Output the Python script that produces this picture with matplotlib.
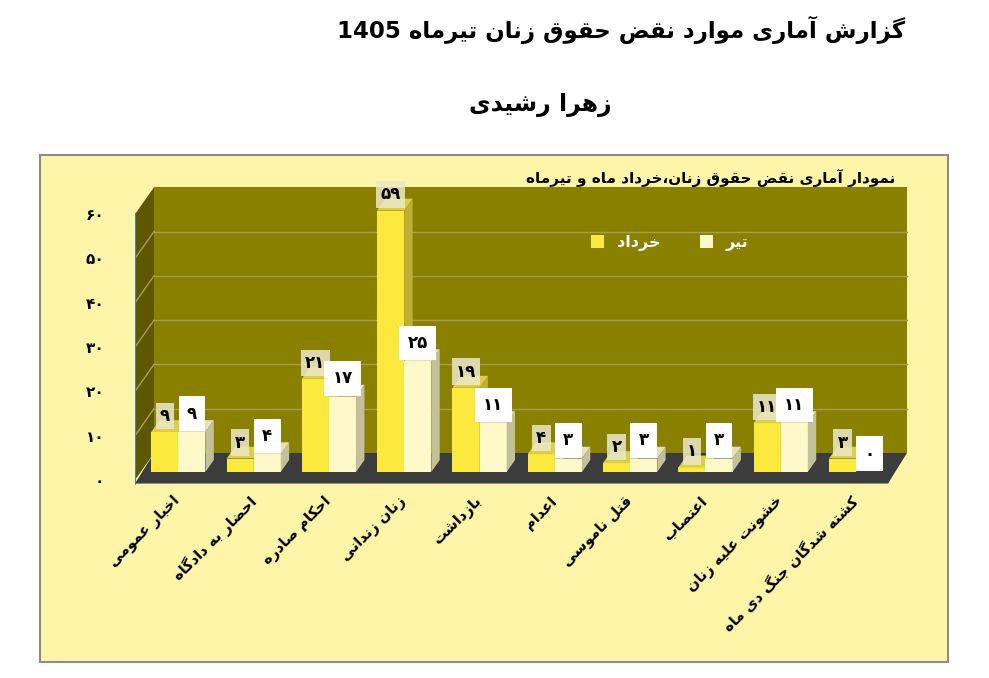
import matplotlib
matplotlib.use("Agg")
import matplotlib.pyplot as plt
from matplotlib.patches import Polygon, Rectangle, Patch

# داده‌ها
categories = ['اخبار عمومی', 'احضار به دادگاه', 'احکام صادره', 'زنان زندانی', 'بازداشت',
              'اعدام', 'قتل ناموسی', 'اعتصاب', 'خشونت علیه زنان', 'کشته شدگان جنگ دی ماه']
khordad = [9, 3, 21, 59, 19, 4, 2, 1, 11, 3]
tir = [9, 4, 17, 25, 11, 3, 3, 3, 11, 0]
series_names = ['خرداد', 'تیر']
yticks = [0, 10, 20, 30, 40, 50, 60]

title = 'گزارش آماری موارد نقض حقوق زنان تیرماه 1405'
subtitle = 'زهرا رشیدی'
chart_title = 'نمودار آماری نقض حقوق زنان،خرداد ماه و تیرماه'

# --- شکل‌دهی ساده حروف فارسی (matplotlib خودش این کار را نمی‌کند)
FORMS = {
    'ا': ('\uFE8D', '\uFE8E'), 'آ': ('\uFE81', '\uFE82'),
    'د': ('\uFEA9', '\uFEAA'), 'ذ': ('\uFEAB', '\uFEAC'),
    'ر': ('\uFEAD', '\uFEAE'), 'ز': ('\uFEAF', '\uFEB0'),
    'ژ': ('\uFB8A', '\uFB8B'), 'و': ('\uFEED', '\uFEEE'),
    'ب': ('\uFE8F', '\uFE90', '\uFE91', '\uFE92'),
    'پ': ('\uFB56', '\uFB57', '\uFB58', '\uFB59'),
    'ت': ('\uFE95', '\uFE96', '\uFE97', '\uFE98'),
    'ث': ('\uFE99', '\uFE9A', '\uFE9B', '\uFE9C'),
    'ج': ('\uFE9D', '\uFE9E', '\uFE9F', '\uFEA0'),
    'چ': ('\uFB7A', '\uFB7B', '\uFB7C', '\uFB7D'),
    'ح': ('\uFEA1', '\uFEA2', '\uFEA3', '\uFEA4'),
    'خ': ('\uFEA5', '\uFEA6', '\uFEA7', '\uFEA8'),
    'س': ('\uFEB1', '\uFEB2', '\uFEB3', '\uFEB4'),
    'ش': ('\uFEB5', '\uFEB6', '\uFEB7', '\uFEB8'),
    'ص': ('\uFEB9', '\uFEBA', '\uFEBB', '\uFEBC'),
    'ض': ('\uFEBD', '\uFEBE', '\uFEBF', '\uFEC0'),
    'ط': ('\uFEC1', '\uFEC2', '\uFEC3', '\uFEC4'),
    'ع': ('\uFEC9', '\uFECA', '\uFECB', '\uFECC'),
    'غ': ('\uFECD', '\uFECE', '\uFECF', '\uFED0'),
    'ف': ('\uFED1', '\uFED2', '\uFED3', '\uFED4'),
    'ق': ('\uFED5', '\uFED6', '\uFED7', '\uFED8'),
    'ک': ('\uFB8E', '\uFB8F', '\uFB90', '\uFB91'),
    'گ': ('\uFB92', '\uFB93', '\uFB94', '\uFB95'),
    'ل': ('\uFEDD', '\uFEDE', '\uFEDF', '\uFEE0'),
    'م': ('\uFEE1', '\uFEE2', '\uFEE3', '\uFEE4'),
    'ن': ('\uFEE5', '\uFEE6', '\uFEE7', '\uFEE8'),
    'ه': ('\uFEE9', '\uFEEA', '\uFEEB', '\uFEEC'),
    'ی': ('\uFBFC', '\uFBFD', '\uFBFE', '\uFBFF'),
}
DIGITS = '0123456789۰۱۲۳۴۵۶۷۸۹'


def fa(text):
    out = []
    for k, c in enumerate(text):
        if c not in FORMS:
            out.append(c)
            continue
        prev = text[k - 1] if k > 0 else ''
        nxt = text[k + 1] if k + 1 < len(text) else ''
        pj = prev in FORMS and len(FORMS[prev]) == 4
        nj = nxt in FORMS and len(FORMS[c]) == 4
        f = FORMS[c]
        if pj and nj:
            out.append(f[3])
        elif nj:
            out.append(f[2])
        elif pj:
            out.append(f[1])
        else:
            out.append(f[0])
    s = ''.join(out)
    # ترتیب دیداری: راست به چپ، اعداد دست‌نخورده
    tokens, cur, isd = [], '', None
    for c in s:
        d = c in DIGITS
        if cur and d != isd:
            tokens.append((cur, isd))
            cur = ''
        cur += c
        isd = d
    if cur:
        tokens.append((cur, isd))
    return ''.join(t if d else t[::-1] for t, d in reversed(tokens))


def fa_num(n):
    return ''.join('۰۱۲۳۴۵۶۷۸۹'[int(ch)] for ch in str(n))


plt.rcParams['font.family'] = ['DejaVu Sans']
plt.rcParams['font.weight'] = 'bold'

W, H = 989, 678
fig = plt.figure(figsize=(W / 100, H / 100), dpi=100)
fig.patch.set_facecolor('white')

# قاب زرد کم‌رنگ نمودار
fig.patches.append(Rectangle((40 / W, 1 - 662 / H), 908 / W, 507 / H,
                             transform=fig.transFigure, facecolor='#FFF5A8',
                             edgecolor='#8C8C8C', linewidth=1.5, zorder=-10))

# مقیاس پیکسلی: هر دسته 75.3px، هر واحد 4.43px
xs, ys = 75.3, 4.43
left_px, right_px, bot_px, top_px = 135, 930, 485, 175
ax = fig.add_axes([left_px / W, 1 - bot_px / H, (right_px - left_px) / W, (bot_px - top_px) / H])
ax.set_xlim(-0.5, -0.5 + (right_px - left_px) / xs)
ax.set_ylim((480 - bot_px) / ys, (480 - top_px) / ys)
ax.patch.set_visible(False)
for sp in ax.spines.values():
    sp.set_visible(False)

n = len(categories)
DX, DY = 19 / xs, 27 / ys
x0, x1 = -0.5, n - 0.5
ymax = yticks[-1]

# دیوار پشتی، دیوار چپ و کف
ax.add_patch(Polygon([(x0 + DX, DY), (x1 + DX, DY), (x1 + DX, ymax + DY), (x0 + DX, ymax + DY)],
                     closed=True, facecolor='#8A8000', edgecolor='none', zorder=1))
ax.add_patch(Polygon([(x0, 0), (x0 + DX, DY), (x0 + DX, ymax + DY), (x0, ymax)],
                     closed=True, facecolor='#5E5700', edgecolor='none', zorder=1))
for v in yticks[1:-1]:
    ax.plot([x0 + DX, x1 + DX], [v + DY, v + DY], color='#A59D55', lw=1, zorder=2)
    ax.plot([x0, x0 + DX], [v, v + DY], color='#A59D55', lw=1, zorder=2)
ax.add_patch(Polygon([(x0, -0.8), (x1, -0.8), (x1 + DX, DY), (x0 + DX, DY)],
                     closed=True, facecolor='#3C3C3C', edgecolor='none', zorder=2))
ax.plot([x0, x0], [-0.8, ymax], color='#4F7BC0', lw=1.5, zorder=3)

# ستون‌های سه‌بعدی
d0, d1 = 0.3, 0.74
bw = 0.36
colors = [('#FCE93E', '#DCCE48', '#BDB135'), ('#FFF8C8', '#E6E1B8', '#C4C09A')]
lbl_bg = ['#ECE8C8', 'white']
lbl_pad = [0.25, 0.5]
for i in range(n):
    for s, vals in enumerate([khordad, tir]):
        v = vals[i]
        xl = i - bw + s * bw
        front, top, side = colors[s]
        ax.bar(xl + d0 * DX, v, width=bw, bottom=d0 * DY, align='edge',
               color=front, edgecolor='none', zorder=4)
        if v == 0:
            continue
        ax.add_patch(Polygon([(xl + d0 * DX, v + d0 * DY), (xl + bw + d0 * DX, v + d0 * DY),
                              (xl + bw + d1 * DX, v + d1 * DY), (xl + d1 * DX, v + d1 * DY)],
                             closed=True, facecolor=top, edgecolor='none', zorder=4))
        ax.add_patch(Polygon([(xl + bw + d0 * DX, d0 * DY), (xl + bw + d0 * DX, v + d0 * DY),
                              (xl + bw + d1 * DX, v + d1 * DY), (xl + bw + d1 * DX, d1 * DY)],
                             closed=True, facecolor=side, edgecolor='none', zorder=4))

for i in range(n):
    for s, vals in enumerate([khordad, tir]):
        v = vals[i]
        xc = i - bw + s * bw + bw / 2 + d0 * DX
        ax.text(xc, v + d0 * DY + 1.6 + 0.5 * s, fa_num(v), ha='center', va='bottom',
                fontsize=12, fontweight='bold', color='black', zorder=6,
                bbox=dict(boxstyle='square,pad=%.2f' % lbl_pad[s], facecolor=lbl_bg[s],
                          edgecolor='none', alpha=0.85 if s == 0 else 1.0))

ax.set_yticks(yticks)
ax.set_yticklabels([fa_num(v) for v in yticks], fontsize=11, fontweight='bold')
ax.set_xticks(range(n))
ax.set_xticklabels([fa(c) for c in categories], rotation=45, ha='right',
                   rotation_mode='anchor', fontsize=10.5, fontweight='bold')
ax.tick_params(axis='y', length=0, pad=22)
ax.tick_params(axis='x', length=0, pad=6)

# راهنما
handles = [Patch(facecolor=colors[0][0]), Patch(facecolor=colors[1][0])]
ax.legend(handles, [fa(t) for t in series_names], ncol=2, frameon=False, loc='center',
          bbox_to_anchor=(670 / W, 1 - 243 / H), bbox_transform=fig.transFigure,
          labelcolor='white', prop={'weight': 'bold', 'size': 11.5},
          handlelength=0.8, handleheight=0.8, handletextpad=0.8, columnspacing=2.5)

fig.text(905 / W, 1 - 30 / H, fa(title), ha='right', va='center', fontsize=16.5, fontweight='bold')
fig.text(540 / W, 1 - 105 / H, fa(subtitle), ha='center', va='center', fontsize=17, fontweight='bold')
fig.text(895 / W, 1 - 178 / H, fa(chart_title), ha='right', va='center', fontsize=11, fontweight='bold')

fig.savefig('out.png', dpi=100)
